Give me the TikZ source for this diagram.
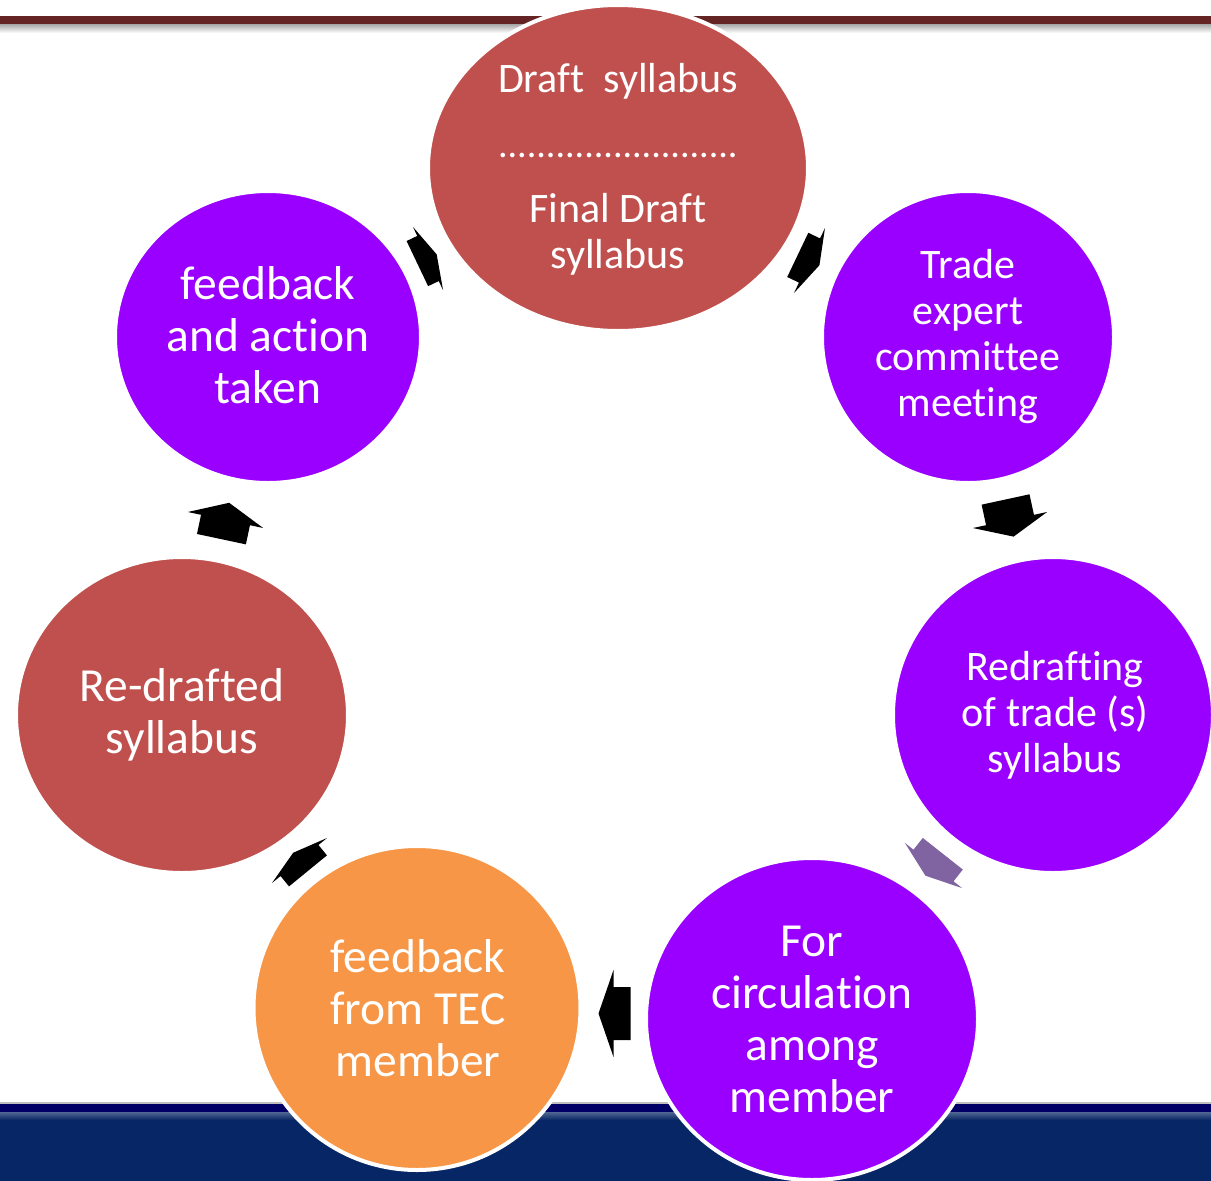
\documentclass[tikz,border=0pt]{standalone}
\usepackage{fontspec}
\setmainfont{Carlito}[Ligatures=NoCommon]
\usetikzlibrary{shapes.geometric}
\definecolor{cBrick}{HTML}{C0504D}
\definecolor{cPurple}{HTML}{9900FF}
\definecolor{cOrange}{HTML}{F79646}
\definecolor{cArrowP}{HTML}{8064A2}
\definecolor{cMaroon}{HTML}{632423}
\definecolor{cNavy}{HTML}{072665}
\definecolor{cNavyDark}{HTML}{000066}
\newcommand\blockarr[8]{%
  \fill[#8, shift={(#1,#2)}, rotate=#3]
    ({-#4},{-#5/2}) -- (0,{-#5/2}) -- (0,{-#7/2}) -- (#6,0) -- (0,{#7/2})
    -- (0,{#5/2}) -- ({-#4},{#5/2}) -- cycle;}
\begin{document}
\begin{tikzpicture}[x=1pt,y=-1pt,
  bub/.style={ellipse, draw=white, line width=4pt, inner sep=0pt},
  txt/.style={text=white, align=center, inner sep=0pt, font=\fontsize{47.5}{52}\selectfont},
  smalltxt/.style={text=white, align=center, inner sep=0pt, font=\fontsize{42}{46}\selectfont}]
\useasboundingbox (0,0) rectangle (1211,1181);
% top bar
\fill[cMaroon] (0,16) rectangle (1211,24);
\shade[top color=black!35, bottom color=white] (0,24) rectangle (1211,33);
% bottom bar
\fill[black!25] (0,1102) rectangle (1211,1104);
\fill[cNavyDark] (0,1104) rectangle (1211,1112);
\fill[cNavy] (0,1112) rectangle (1211,1181);
\shade[top color=cNavy!70!white, bottom color=cNavy] (0,1112) rectangle (1211,1120);
% bubbles
\node[bub, fill=cBrick, minimum width=380, minimum height=326] (draft) at (618,168) {};
\node[bub, fill=cPurple, minimum width=292, minimum height=292] (trade) at (968,337) {};
\node[bub, fill=cPurple, minimum width=320, minimum height=316] (redraft) at (1053,715) {};
\node[bub, fill=cPurple, minimum width=332, minimum height=322] (circ) at (812,1019) {};
\node[bub, fill=cOrange, minimum width=327, minimum height=324] (tec) at (417,1008) {};
\node[bub, fill=cBrick, minimum width=332, minimum height=316] (redrafted) at (182,715) {};
\node[bub, fill=cPurple, minimum width=306, minimum height=292] (action) at (268,337) {};
% texts
\node[smalltxt] (tdraft) at (618,169) {Draft~~syllabus\\[19pt]{\fontsize{38}{46}\selectfont .........................}\\[19pt]Final Draft\\syllabus};
\node[smalltxt] (ttrade) at (968,337) {Trade\\expert\\committee\\meeting};
\node[smalltxt] (tredraft) at (1055,715) {Redrafting\\of trade (s)\\syllabus};
\node[txt] (tcirc) at (812,1019) {For\\circulation\\among\\member};
\node[txt] (ttec) at (418,1008) {feedback\\from TEC\\member};
\node[txt] (tredrafted) at (182,715) {Re-drafted\\syllabus};
\node[txt] (taction) at (268,335) {feedback\\and action\\taken};
% block arrows: x, y, angle, body length, body width, head length, head width, colour
\blockarr{809.5}{260.5}{-25.5}{13}{49}{11}{72}{black}
\blockarr{1010}{520}{-77.8}{21}{49}{17}{76}{black}
\blockarr{933.5}{865.5}{-128.3}{15}{51}{13}{73}{cArrowP}
\blockarr{613.5}{1013.5}{180}{17}{53}{15}{87}{black}
\blockarr{299.5}{860.5}{129.3}{13.4}{49}{10}{71}{black}
\blockarr{225.5}{520}{78}{19.6}{50}{17.6}{77}{black}
\blockarr{428}{258.5}{25.5}{11.8}{50}{9.6}{70}{black}
\end{tikzpicture}
\end{document}
